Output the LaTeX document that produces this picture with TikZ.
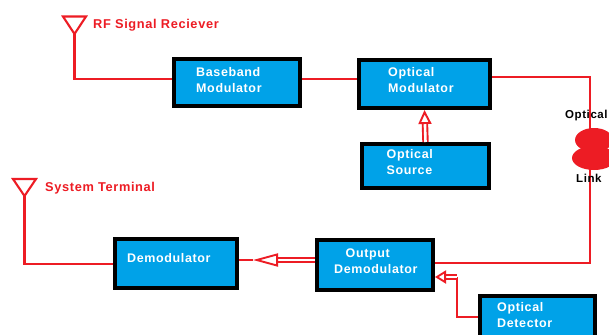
\documentclass[tikz,border=0pt]{standalone}
\usepackage{fontspec}
\setmainfont{Liberation Sans}
\newfontfamily\lblfont[LetterSpace=5,BoldFont={Liberation Sans Bold}]{Liberation Sans}
\usetikzlibrary{arrows.meta}
\definecolor{wirered}{HTML}{ED1C24}
\definecolor{boxblue}{HTML}{00A2E8}
\tikzset{
  blockbox/.style={draw=black,line width=3.6pt,fill=boxblue,inner sep=0pt},
  blocktext/.style={text=white,font=\lblfont\bfseries\fontsize{12.5}{16}\selectfont,align=left,anchor=west,inner sep=0pt},
  redtext/.style={text=wirered,font=\lblfont\bfseries\fontsize{12.8}{14}\selectfont,anchor=west,inner sep=0pt},
  blacktext/.style={text=black,font=\lblfont\bfseries\fontsize{11.5}{14}\selectfont,anchor=west,inner sep=0pt},
  wire/.style={draw=wirered,line width=2.1pt,line join=miter},
  hollow/.style={draw=wirered,line width=1.9pt,double=white,double distance=2.6pt,
    -{Triangle[open,fill=white,length=#1,width=13pt,line width=1.9pt]}},
}
\begin{document}
\begin{tikzpicture}[x=1pt,y=-1pt]
\clip (0,0) rectangle (609,334);
\fill[white] (0,0) rectangle (609,334);
% free wire ends
\coordinate (ant1) at (74.5,34);
\coordinate (ant2) at (24.5,196);
\coordinate (link) at (590,149);
\coordinate (h1) at (253,260);
\coordinate (bend) at (457,277);
% connectors lie beneath the boxes
\draw[wire] (ant1) |- (172,79) coordinate (bbin);
\draw[wire] (ant2) |- (113,264) coordinate (dmin);
% antennas
\draw[wire] (63,16.5) -- (86,16.5) -- (ant1) -- cycle;
\draw[wire] (13,179) -- (36,179) -- (ant2) -- cycle;
% boxes
\node[blockbox,minimum width=126.4pt,minimum height=47.4pt] (bb) at (237,82.5) {};
\node[blockbox,minimum width=131.4pt,minimum height=48.4pt] (om) at (424.5,84) {};
\node[blockbox,minimum width=127.4pt,minimum height=44.4pt] (os) at (425.5,166) {};
\node[blockbox,minimum width=122.4pt,minimum height=49.4pt] (dm) at (176,263.5) {};
\node[blockbox,minimum width=116.4pt,minimum height=50.4pt] (od) at (375,265) {};
\node[blockbox,minimum width=115.4pt,minimum height=60pt] (de) at (537.5,326) {};
% box texts
\node[blocktext] (bbt) at (196,80) {Baseband\\Modulator};
\node[blocktext] (omt) at (388,80) {Optical\\Modulator};
\node[blocktext] (ost) at (386.5,162) {Optical\\Source};
\node[blocktext] (dmt) at (127,258.5) {Demodulator};
\node[blocktext] (odt) at (334,261) {\hspace*{11.5pt}Output\\Demodulator};
\node[blocktext] (det) at (497,315) {Optical\\Detector};
% labels
\node[redtext] (rf) at (93,25) {RF Signal Reciever};
\node[redtext] (st) at (45,188) {System Terminal};
% connectors
\draw[wire] (bb.east |- 0,79) -- (om.west |- 0,79);
\draw[wire] ([yshift=7pt]om.east) -| (link);
\draw[wire] (link) |- ([yshift=2pt]od.east);
\draw[hollow=14pt] (os.north) -- (om.south);
\draw[hollow=25pt] ([yshift=5pt]od.west) -- (h1);
\draw[wire] (h1) -- (dm.east |- h1);
\draw[wire] ([yshift=9pt]de.west) -| (bend);
\draw[hollow=11pt] (bend) -- ([yshift=-12pt]od.east);
% optical link
\fill[wirered] (594,140) ellipse[x radius=19,y radius=12];
\fill[wirered] (594,158) ellipse[x radius=22,y radius=12];
\node[blacktext] (opt) at (565,116) {Optical};
\node[blacktext] (lnk) at (576,178) {Link};
\end{tikzpicture}
\end{document}
